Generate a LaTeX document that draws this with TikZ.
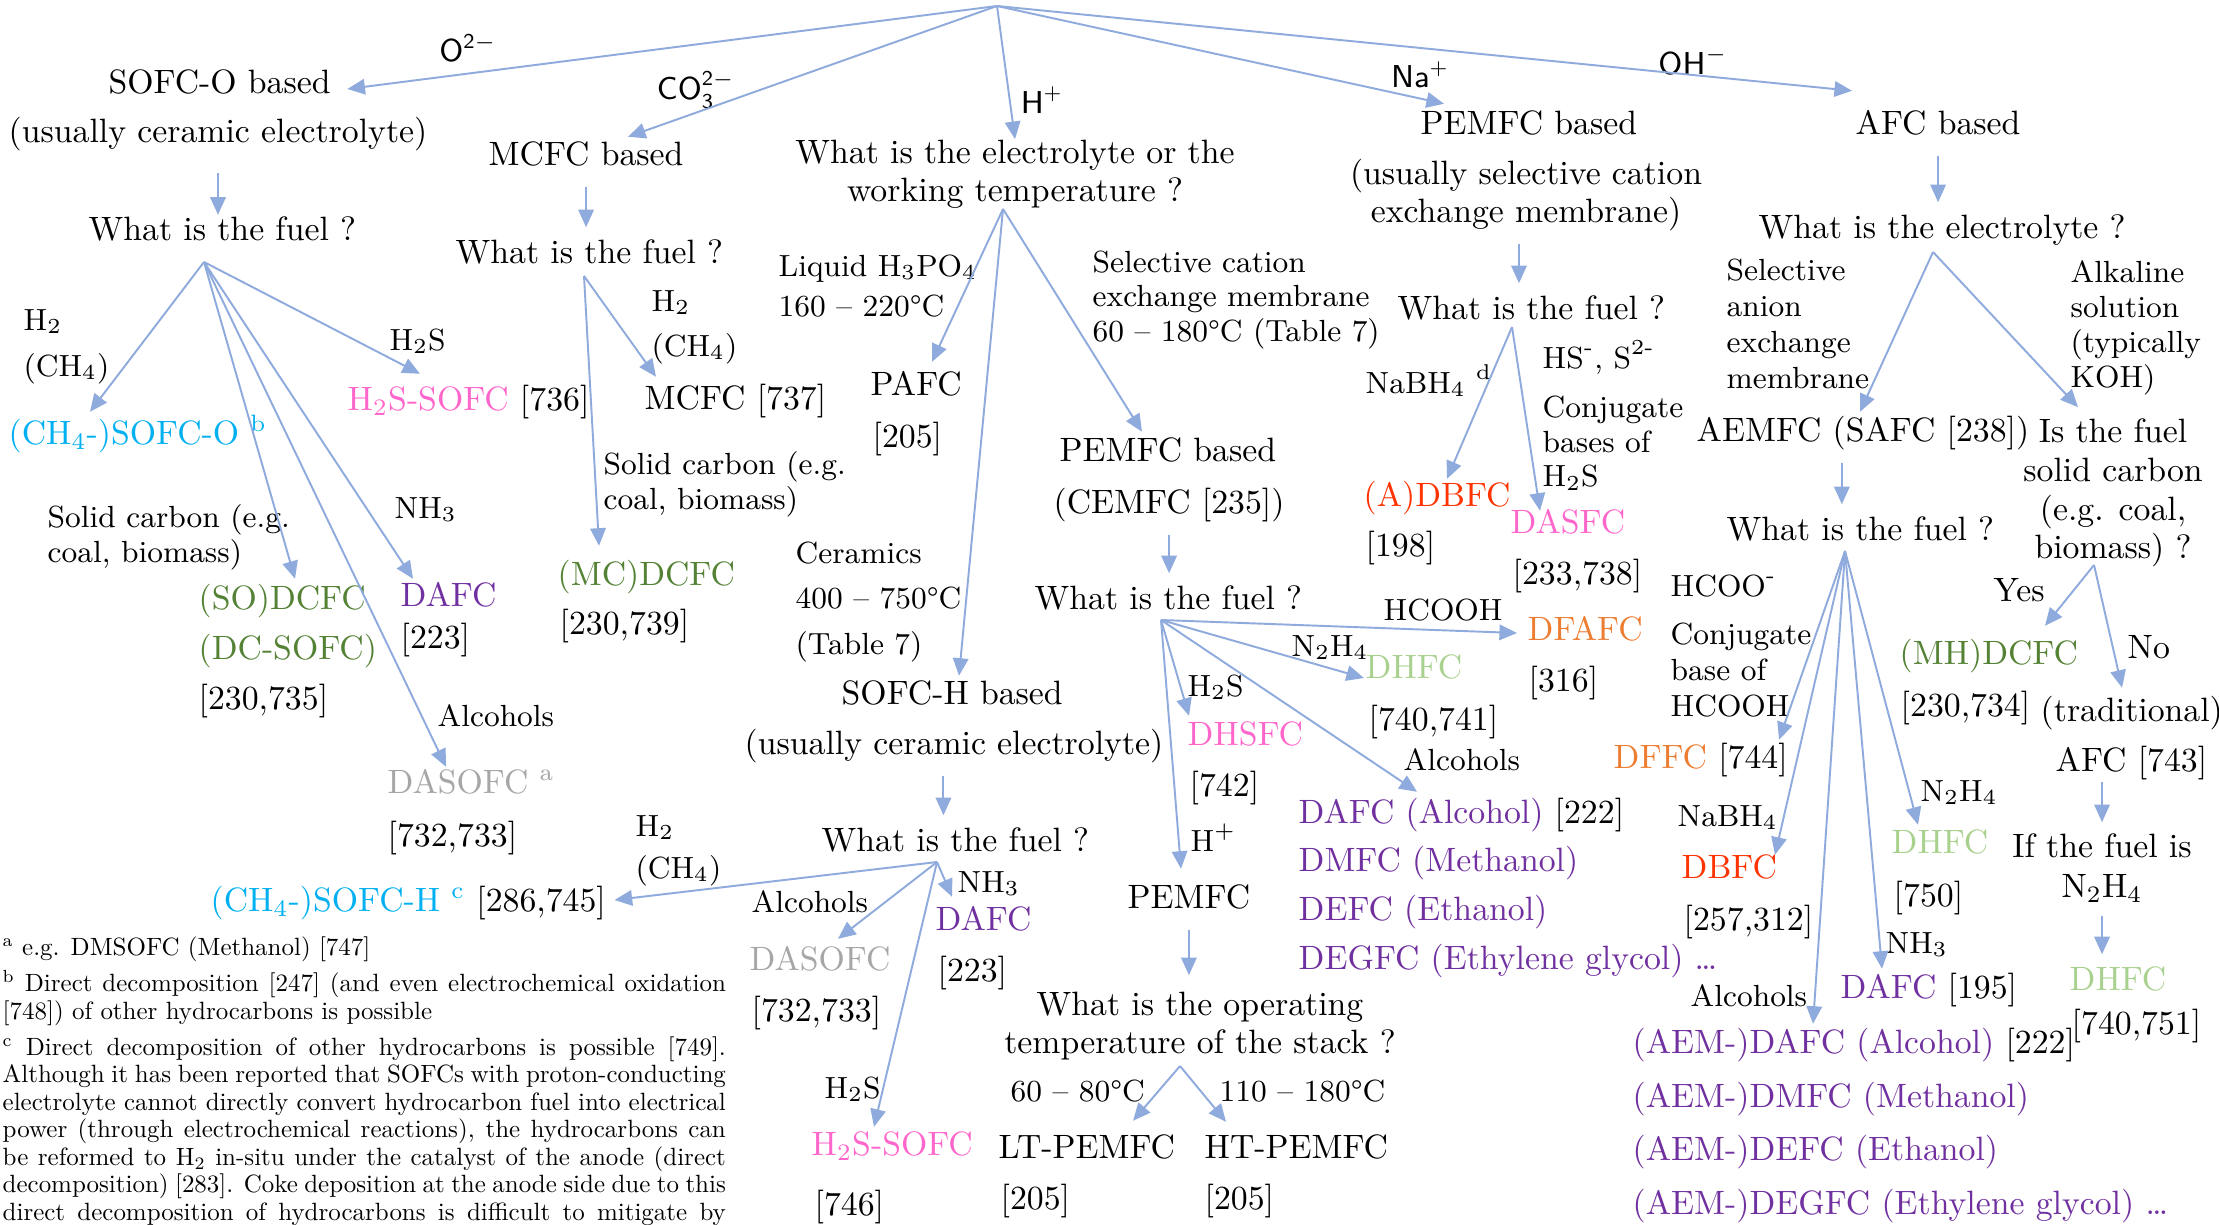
\documentclass[tikz,border=0pt]{standalone}
\usepackage{fontspec}
\usepackage{graphicx}
\usetikzlibrary{arrows.meta}

\definecolor{arrowblue}{RGB}{143,170,220}
\definecolor{fccyan}{RGB}{0,176,240}
\definecolor{fcpink}{RGB}{255,102,204}
\definecolor{fcgreen}{RGB}{84,130,53}
\definecolor{fcpurple}{RGB}{112,48,160}
\definecolor{fcgrey}{RGB}{166,166,166}
\definecolor{fcred}{RGB}{255,51,0}
\definecolor{fcorange}{RGB}{237,125,49}
\definecolor{fclime}{RGB}{169,209,142}

% footnote block: 10pt text shrunk to the figure's small print
\newcommand{\fnblock}[1]{\scalebox{0.71}{\parbox[t]{10.18cm}{\fontsize{10}{11}\selectfont\tolerance=10000 \hyphenpenalty=10000 #1}}}

\begin{document}
\begin{tikzpicture}[
    x=0.01cm, y=-0.01cm,
    every node/.style={font=\fontsize{9.6}{10.2}\selectfont},
    txt/.style={inner sep=0pt, text height=7pt, text depth=2.4pt, anchor=west},
    lbl/.style={inner sep=0pt, align=left, anchor=west},
    lab/.style={txt, font=\fontsize{8.7}{9.9}\selectfont},
    labm/.style={lbl, font=\fontsize{8.7}{9.9}\selectfont},
    ctr/.style={inner sep=0pt, align=center, font=\fontsize{9.6}{11}\selectfont},
    ion/.style={inner sep=0pt, font=\sffamily\fontsize{9}{10}\selectfont},
    arr/.style={draw=arrowblue, line width=0.55pt, -{Triangle[length=5pt,width=4.4pt]}},
    vdown/.style={arr, shorten <=3.5pt, shorten >=3pt},
    note/.style={inner sep=0pt, anchor=north west}
    ]
    \fill[white] (0,0) rectangle (2219,1224);
    \useasboundingbox (0,0) rectangle (2219,1224);

    % Root and ions
    \coordinate (root) at (997,6);
    \node[ion] (o2) at (468,48) {O\textsuperscript{2$-$}};
    \node[ion] (co3) at (696,90) {CO$_{\mathsf{3}}^{\mathsf{2-}}$};
    \node[ion] (hp) at (1042,100) {H\textsuperscript{+}};
    \node[ion] (nap) at (1420,75) {Na\textsuperscript{+}};
    \node[ion] (ohm) at (1693,61) {OH\textsuperscript{$-$}};

    % SOFC-O branch
    \node[txt] (sofco) at (108,85) {SOFC-O based};
    \node[txt] (sofcoN) at (8,134) {(usually ceramic electrolyte)};
    \node[txt] (fuelA) at (88,232) {What is the fuel ?};
    \coordinate (fanA) at (204,262);
    \node[lab] (h2A) at (23,322) {H\textsubscript{2}};
    \node[lab] (ch4A) at (23,368) {(CH\textsubscript{4})};
    \node[txt, text=fccyan] (ch4o) at (8,436) {(CH\textsubscript{4}-)SOFC-O \textsuperscript{b}};
    \node[lab] (h2sA) at (389,342) {H\textsubscript{2}S};
    \node[txt] (h2ssofc) at (347,402) {\textcolor{fcpink}{H\textsubscript{2}S-SOFC} [736]};
    \node[labm] (solidA) at (47,537) {Solid carbon (e.g.\\coal, biomass)};
    \node[txt, text=fcgreen] (sodcfc) at (198,601) {(SO)DCFC};
    \node[txt, text=fcgreen] (dcsofc) at (198,651) {(DC-SOFC)};
    \node[txt] (ref735) at (198,701) {[230,735]};
    \node[lab] (nh3A) at (394,510) {NH\textsubscript{3}};
    \node[txt, text=fcpurple] (dafcA) at (400,598) {DAFC};
    \node[txt] (ref223A) at (400,640) {[223]};
    \node[lab] (alcA) at (437,718) {Alcohols};
    \node[txt, text=fcgrey] (dasofcA) at (387,785) {DASOFC \textsuperscript{a}};
    \node[txt] (ref733A) at (387,838) {[732,733]};

    % MCFC branch
    \node[txt] (mcfc) at (488,157) {MCFC based};
    \node[txt] (fuelB) at (455,255) {What is the fuel ?};
    \coordinate (fanB) at (584,276);
    \node[lab] (h2B) at (651,303) {H\textsubscript{2}};
    \node[lab] (ch4B) at (651,348) {(CH\textsubscript{4})};
    \node[txt] (mcfc737) at (644,401) {MCFC [737]};
    \node[labm] (solidB) at (603,484) {Solid carbon (e.g.\\coal, biomass)};
    \node[txt, text=fcgreen] (mcdcfc) at (557,577) {(MC)DCFC};
    \node[txt] (ref739) at (559,626) {[230,739]};

    % H+ branch
    \node[ctr, font=\fontsize{9.6}{10.8}\selectfont] (elq) at (1015,174) {What is the electrolyte or the\\working temperature ?};
    \coordinate (fanH) at (1003,209);
    \node[labm, font=\fontsize{8.7}{11.6}\selectfont] (liquid) at (778,286) {Liquid H\textsubscript{3}PO\textsubscript{4}\\160 – 220°C};
    \node[txt] (pafc) at (870,387) {PAFC};
    \node[txt] (ref205P) at (872,439) {[205]};
    \node[labm, font=\fontsize{8.7}{12.8}\selectfont] (ceramics) at (795,602) {Ceramics\\400 – 750°C\\(Table 7)};
    \node[txt] (sofch) at (841,696) {SOFC-H based};
    \node[txt] (sofchN) at (744,746) {(usually ceramic electrolyte)};
    \node[labm] (selcat) at (1092,300) {Selective cation\\exchange membrane\\60 – 180°C (Table 7)};
    \node[txt] (pemfcC) at (1059,453) {PEMFC based};
    \node[txt] (pemfcCN) at (1053,505) {(CEMFC [235])};

    % SOFC-H fuels
    \node[txt] (fuelD) at (821,843) {What is the fuel ?};
    \coordinate (fanD) at (937,862);
    \node[lab] (h2D) at (635,828) {H\textsubscript{2}};
    \node[lab] (ch4D) at (635,870) {(CH\textsubscript{4})};
    \node[txt] (ch4h) at (210,903) {\textcolor{fccyan}{(CH\textsubscript{4}-)SOFC-H \textsuperscript{c}} [286,745]};
    \node[lab] (alcD) at (751,904) {Alcohols};
    \node[txt, text=fcgrey] (dasofcD) at (749,962) {DASOFC};
    \node[txt] (ref733D) at (751,1013) {[732,733]};
    \node[lab] (nh3D) at (957,884) {NH\textsubscript{3}};
    \node[txt, text=fcpurple] (dafcD) at (935,922) {DAFC};
    \node[txt] (ref223D) at (937,973) {[223]};
    \node[lab] (h2sD) at (824,1090) {H\textsubscript{2}S};
    \node[txt, text=fcpink] (h2ssofcD) at (811,1147) {H\textsubscript{2}S-SOFC};
    \node[txt] (ref746) at (814,1207) {[746]};

    % PEMFC (CEMFC) fuels
    \node[txt] (fuelC) at (1034,601) {What is the fuel ?};
    \coordinate (fanC) at (1161,620);
    \node[lab] (hcoohC) at (1383,612) {HCOOH};
    \node[txt, text=fcorange] (dfafc) at (1527,632) {DFAFC};
    \node[txt] (ref316) at (1528,683) {[316]};
    \node[lab] (n2h4C) at (1291,648) {N\textsubscript{2}H\textsubscript{4}};
    \node[txt, text=fclime] (dhfcC) at (1365,670) {DHFC};
    \node[txt] (ref741) at (1368,722) {[740,741]};
    \node[lab] (h2sC) at (1187,688) {H\textsubscript{2}S};
    \node[txt, text=fcpink] (dhsfc) at (1187,737) {DHSFC};
    \node[txt] (ref742) at (1189,788) {[742]};
    \node[lab] (alcC) at (1403,762) {Alcohols};
    \node[txt] (dafcC) at (1298,815) {\textcolor{fcpurple}{DAFC (Alcohol)} [222]};
    \node[txt, text=fcpurple] (dmfc) at (1298,863) {DMFC (Methanol)};
    \node[txt, text=fcpurple] (defc) at (1298,912) {DEFC (Ethanol)};
    \node[txt, text=fcpurple] (degfc) at (1298,961) {DEGFC (Ethylene glycol) \dots};
    \node[lab] (hpC) at (1190,843) {H\textsuperscript{+}};
    \node[txt] (pemfcH) at (1127,900) {PEMFC};
    \node[ctr] (opq) at (1200,1026) {What is the operating\\temperature of the stack ?};
    \coordinate (fanT) at (1180,1066);
    \node[lab] (lowT) at (1010,1093) {60 – 80°C};
    \node[lab] (highT) at (1219,1093) {110 – 180°C};
    \node[txt] (ltpemfc) at (998,1150) {LT-PEMFC};
    \node[txt] (ref205L) at (1000,1201) {[205]};
    \node[txt] (htpemfc) at (1204,1150) {HT-PEMFC};
    \node[txt] (ref205H) at (1204,1201) {[205]};

    % PEMFC (Na+) branch
    \node[txt] (pemfcNa) at (1420,126) {PEMFC based};
    \node[ctr] (pemfcNaN) at (1526,195) {(usually selective cation\\exchange membrane)};
    \node[txt] (fuelE) at (1397,311) {What is the fuel ?};
    \coordinate (fanE) at (1512,327);
    \node[lab] (nabhE) at (1365,385) {NaBH\textsubscript{4} \textsuperscript{d}};
    \node[lab] (hsE) at (1542,360) {HS\textsuperscript{-}, S\textsuperscript{2-}};
    \node[labm] (conjE) at (1542,443) {Conjugate\\bases of\\H\textsubscript{2}S};
    \node[txt, text=fcred] (adbfc) at (1363,498) {(A)DBFC};
    \node[txt] (ref198) at (1365,548) {[198]};
    \node[txt, text=fcpink] (dasfc) at (1510,525) {DASFC};
    \node[txt] (ref738) at (1512,576) {[233,738]};

    % AFC branch
    \node[txt] (afc) at (1855,126) {AFC based};
    \node[txt] (elq2) at (1758,230) {What is the electrolyte ?};
    \coordinate (fanF) at (1933,252);
    \node[labm, font=\fontsize{8.7}{10.2}\selectfont] (anion) at (1726,324) {Selective\\anion\\exchange\\membrane};
    \node[labm] (alkaline) at (2070,328) {Alkaline\\solution\\(typically\\KOH)};
    \node[txt] (aemfc) at (1696,433) {AEMFC (SAFC [238])};
    \node[ctr] (isfuel) at (2113,493) {Is the fuel\\solid carbon\\(e.g. coal,\\biomass) ?};
    \node[txt] (fuelF) at (1726,532) {What is the fuel ?};
    \coordinate (fanG) at (1845,551);
    \coordinate (fanY) at (2094,565);
    \node[lab] (hcooG) at (1670,588) {HCOO\textsuperscript{-}};
    \node[labm, font=\fontsize{8.7}{10.2}\selectfont] (conjG) at (1670,670) {Conjugate\\base of\\HCOOH};
    \node[txt] (dffc) at (1613,760) {\textcolor{fcorange}{DFFC} [744]};
    \node[lab] (nabhG) at (1677,818) {NaBH\textsubscript{4}};
    \node[txt, text=fcred] (dbfc) at (1681,870) {DBFC};
    \node[txt] (ref312) at (1683,922) {[257,312]};
    \node[lab] (alcG) at (1690,998) {Alcohols};
    \node[txt] (aemdafc) at (1632,1045) {\textcolor{fcpurple}{(AEM-)DAFC (Alcohol)} [222]};
    \node[txt, text=fcpurple] (aemdmfc) at (1632,1099) {(AEM-)DMFC (Methanol)};
    \node[txt, text=fcpurple] (aemdefc) at (1632,1152) {(AEM-)DEFC (Ethanol)};
    \node[txt, text=fcpurple] (aemdegfc) at (1632,1206) {(AEM-)DEGFC (Ethylene glycol) \dots};
    \node[lab] (n2h4G) at (1920,793) {N\textsubscript{2}H\textsubscript{4}};
    \node[txt, text=fclime] (dhfcG) at (1891,845) {DHFC};
    \node[txt] (ref750) at (1893,898) {[750]};
    \node[lab] (nh3G) at (1885,945) {NH\textsubscript{3}};
    \node[txt] (dafcG) at (1840,990) {\textcolor{fcpurple}{DAFC} [195]};
    \node[txt] (yes) at (1993,593) {Yes};
    \node[txt] (no) at (2127,650) {No};
    \node[txt, text=fcgreen] (mhdcfc) at (1899,656) {(MH)DCFC};
    \node[txt] (ref734) at (1900,708) {[230,734]};
    \node[txt] (trad) at (2040,713) {(traditional)};
    \node[txt] (afc743) at (2055,763) {AFC [743]};
    \node[ctr, font=\fontsize{9.6}{11.4}\selectfont] (iffuel) at (2102,868) {If the fuel is\\N\textsubscript{2}H\textsubscript{4}};
    \node[txt, text=fclime] (dhfcH) at (2069,982) {DHFC};
    \node[txt] (ref751) at (2071,1026) {[740,751]};

    % Footnotes
    \node[note] (fna) at (2,936) {\fnblock{\textsuperscript{a} e.g. DMSOFC (Methanol) [747]}};
    \node[note] (fnb) at (2,970) {\fnblock{\textsuperscript{b} Direct decomposition [247] (and even electrochemical oxidation\linebreak{}[748]) of other hydrocarbons is possible}};
    \node[note] (fnc) at (2,1036) {\fnblock{\parfillskip=0pt \textsuperscript{c} Direct decomposition of other hydrocarbons is possible [749].\linebreak{}Although it has been reported that SOFCs with proton-conducting\linebreak{}electrolyte cannot directly convert hydrocarbon fuel into electrical\linebreak{}power (through electrochemical reactions), the hydrocarbons can\linebreak{}be reformed to H\textsubscript{2} in-situ under the catalyst of the anode (direct\linebreak{}decomposition) [283]. Coke deposition at the anode side due to this\linebreak{}direct decomposition of hydrocarbons is difficult to mitigate by}};

    % Arrows from the root
    \draw[arr] (root) -- ([shift={(16,4)}]sofco.east);
    \draw[arr] (root) -- ([shift={(140,-3)}]mcfc.north west);
    \draw[arr] (root) -- (elq.north);
    \draw[arr] (root) -- ([shift={(24,-5)}]pemfcNa.north west);
    \draw[arr] (root) -- ([shift={(-3,-18)}]afc.north west);

    % SOFC-O arrows
    \draw[vdown, shorten <=6.2pt, shorten >=0pt] (sofcoN.south) -- (sofcoN.south |- fuelA.north);
    \draw[arr] (fanA) -- ([shift={(82,-7)}]ch4o.north west);
    \draw[arr] (fanA) -- ([shift={(73,-11)}]h2ssofc.north west);
    \draw[arr] (fanA) -- ([shift={(97,-5)}]sodcfc.north west);
    \draw[arr] (fanA) -- ([shift={(13,-2)}]dafcA.north west);
    \draw[arr] (fanA) -- ([shift={(59,-1)}]dasofcA.north west);

    % MCFC arrows
    \draw[vdown] (mcfc.south) -- (mcfc.south |- fuelB.north);
    \draw[arr] (fanB) -- ([shift={(12,-7)}]mcfc737.north west);
    \draw[arr] (fanB) -- ([shift={(42,-14)}]mcdcfc.north west);

    % H+ arrows
    \draw[arr] (fanH) -- ([shift={(62,-8)}]pafc.north west);
    \draw[arr] (fanH) -- ([shift={(118,-3)}]sofch.north west);
    \draw[arr] (fanH) -- ([shift={(83,-4)}]pemfcC.north west);
    \draw[vdown] (pemfcCN.south) -- (pemfcCN.south |- fuelC.north);
    \draw[vdown] ([xshift=-3pt]sofchN.south) -- ([xshift=-3pt]sofchN.south |- fuelD.north);

    \draw[arr] (fanD) -- ([shift={(8,-3)}]ch4h.east);
    \draw[arr] (fanD) -- ([shift={(89,-6)}]dasofcD.north west);
    \draw[arr] (fanD) -- ([shift={(17,-8)}]dafcD.north west);
    \draw[arr] (fanD) -- ([shift={(63,-3)}]h2ssofcD.north west);

    \draw[arr] (fanC) -- ([shift={(-10,1)}]dfafc.west);
    \draw[arr] (fanC) -- ([shift={(-1,8)}]dhfcC.west);
    \draw[arr] (fanC) -- ([shift={(2,-4)}]dhsfc.north west);
    \draw[arr] (fanC) -- ([shift={(119,-6)}]dafcC.north west);
    \draw[arr] (fanC) -- ([shift={(54,-14)}]pemfcH.north west);
    \draw[vdown, shorten >=4.5pt] (pemfcH.south) -- (pemfcH.south |- opq.north);
    \draw[arr] (fanT) -- ([shift={(135,-12)}]ltpemfc.north west);
    \draw[arr] (fanT) -- ([shift={(22,-11)}]htpemfc.north west);

    % Na+ arrows
    \draw[vdown] ([xshift=-2pt]pemfcNaN.south) -- ([xshift=-2pt]pemfcNaN.south |- fuelE.north);
    \draw[arr] (fanE) -- ([shift={(84,-2)}]adbfc.north west);
    \draw[arr] (fanE) -- ([shift={(30,3)}]dasfc.north west);

    % AFC arrows
    \draw[vdown] (afc.south) -- (afc.south |- elq2.north);
    \draw[arr] (fanF) -- ([shift={(164,-4)}]aemfc.north west);
    \draw[arr] (fanF) -- ([shift={(-35,-11)}]isfuel.north);
    \draw[vdown] ([xshift=-6pt]aemfc.south) -- ([xshift=-6pt]aemfc.south |- fuelF.north);
    \draw[arr] (fanG) -- ([shift={(166,-3)}]dffc.north west);
    \draw[arr] (fanG) -- ([shift={(94,2)}]dbfc.north west);
    \draw[arr] (fanG) -- ([shift={(181,-4)}]aemdafc.north west);
    \draw[arr] (fanG) -- ([shift={(42,-4)}]dafcG.north west);
    \draw[arr] (fanG) -- ([shift={(27,-3)}]dhfcG.north west);
    \draw[arr] (fanY) -- ([shift={(146,-13)}]mhdcfc.north west);
    \draw[arr] (fanY) -- ([shift={(82,-8)}]trad.north west);
    \draw[vdown, shorten <=0.5pt] (iffuel.north |- afc743.south) -- (iffuel.north);
    \draw[vdown] (iffuel.south) -- (iffuel.south |- dhfcH.north);
\end{tikzpicture}
\end{document}
